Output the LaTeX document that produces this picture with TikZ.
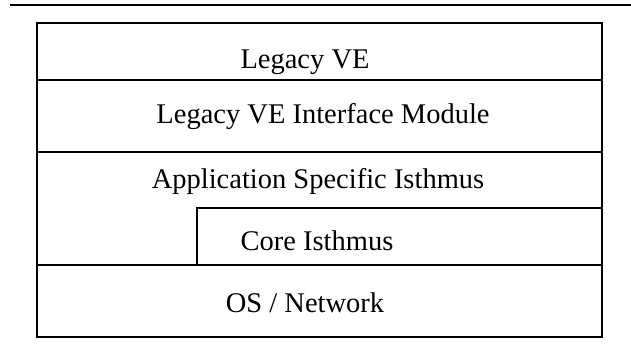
\documentclass[tikz,border=0pt]{standalone}
\usepackage{fontspec}
\setmainfont{Liberation Serif}
\begin{document}
\begin{tikzpicture}[x=1pt, y=-1pt, line width=2.6pt,
    layer/.style={font=\fontsize{28.5}{34}\selectfont, inner sep=0pt, anchor=base}]
  \useasboundingbox (0,0) rectangle (631,354);
  \draw (10,5) -- (631,5);
  \draw (37,23) rectangle (602,337);
  \foreach \Y in {80, 152, 265} {
    \draw (37,\Y) -- (602,\Y);
  }
  \draw (197,265) -- (197,208) -- (602,208);
  \node [layer] (lve) at (305,68) {Legacy VE};
  \node [layer] (lvim) at (323,123) {Legacy VE Interface Module};
  \node [layer] (asi) at (318,188) {Application Specific Isthmus};
  \node [layer] (core) at (317,250) {Core Isthmus};
  \node [layer] (osnet) at (305,312) {OS / Network};
\end{tikzpicture}
\end{document}
